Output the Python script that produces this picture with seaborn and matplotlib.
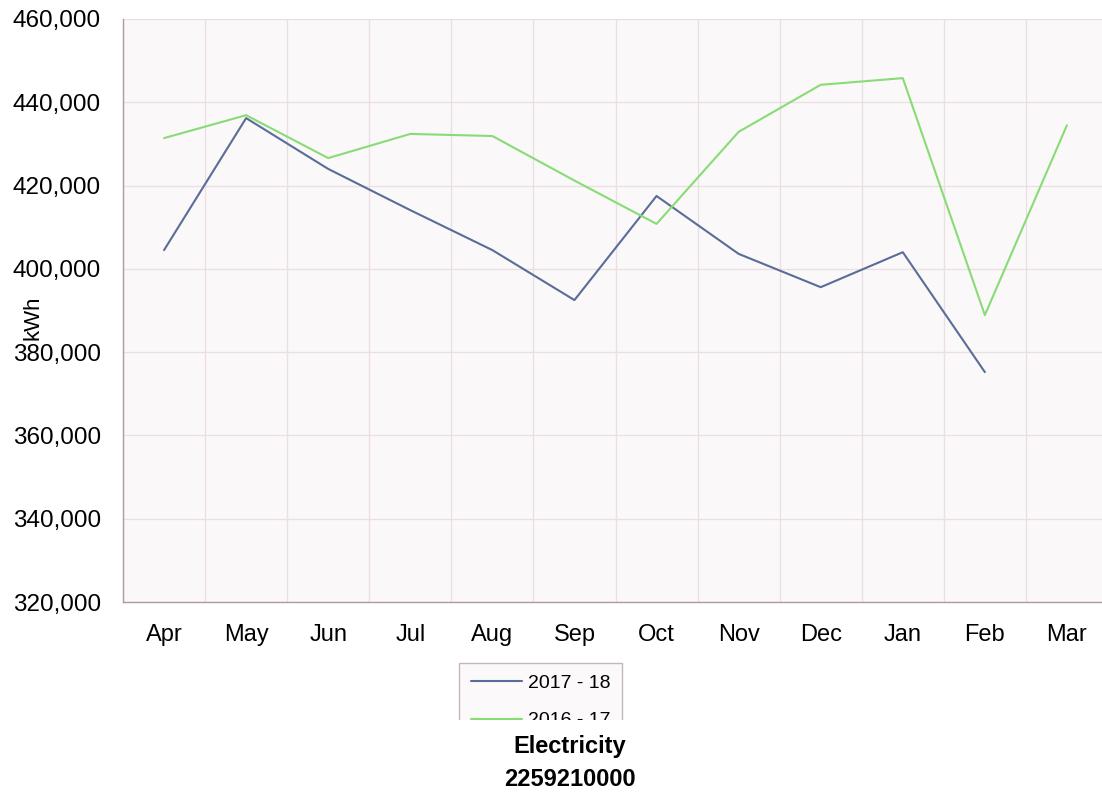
import matplotlib
matplotlib.use("Agg")
import matplotlib.pyplot as plt
from matplotlib.patches import Rectangle
from matplotlib.ticker import FuncFormatter, FixedLocator
import pandas as pd
import seaborn as sns

# data
months = ["Apr", "May", "Jun", "Jul", "Aug", "Sep", "Oct", "Nov", "Dec", "Jan", "Feb", "Mar"]
kwh_2017_18 = [404500, 436200, 424000, 414100, 404500, 392500, 417500, 403600, 395600, 404000, 375200, None]
kwh_2016_17 = [431400, 436900, 426600, 432400, 431900, 421200, 410800, 432900, 444200, 445800, 388900, 434500]
series_names = ["2017 - 18", "2016 - 17"]
colors = ["#5a6c98", "#88dc76"]

df = pd.concat([
    pd.DataFrame({"month": months, "kwh": kwh_2017_18, "year": series_names[0]}),
    pd.DataFrame({"month": months, "kwh": kwh_2016_17, "year": series_names[1]}),
]).dropna()

sns.set_style("white")
plt.rcParams["font.family"] = ["Liberation Sans", "DejaVu Sans"]
plt.rcParams["text.color"] = "black"
plt.rcParams["axes.labelcolor"] = "black"
plt.rcParams["xtick.color"] = "black"
plt.rcParams["ytick.color"] = "black"

fig = plt.figure(figsize=(11.02, 7.94), dpi=100)
ax = fig.add_axes([123 / 1102, 192 / 794, 985 / 1102, 583 / 794])
ax.set_facecolor("#fbf8f9")

sns.lineplot(data=df, x="month", y="kwh", hue="year", hue_order=series_names,
             palette=colors, linewidth=1.5, sort=False, ax=ax)

ax.set_xlim(-0.5, 11.5)
ax.set_ylim(320000, 460000)
ax.set_yticks(range(320000, 460001, 20000))
ax.yaxis.set_major_formatter(FuncFormatter(lambda v, p: f"{int(v):,}"))
ax.set_xticks(range(12))
ax.set_xticklabels(months)
ax.xaxis.set_minor_locator(FixedLocator([i - 0.5 for i in range(13)]))

ax.tick_params(axis="x", which="major", length=0, labelsize=17, pad=16, labelcolor="black")
ax.tick_params(axis="x", which="minor", length=7, color="#b09a9b", width=1)
ax.tick_params(axis="y", length=7, color="#b09a9b", labelsize=17.5, pad=9, labelcolor="black")

ax.grid(False)
ax.yaxis.grid(True, color="#ecdfe1", linewidth=1)
ax.xaxis.grid(True, which="minor", color="#ecdfe1", linewidth=1)
ax.set_axisbelow(True)

for side in ["top", "right"]:
    ax.spines[side].set_visible(False)
for side in ["left", "bottom"]:
    ax.spines[side].set_color("#b09a9b")
    ax.spines[side].set_linewidth(1)

ax.set_xlabel("")
ax.set_ylabel("kWh", fontsize=16, color="black")
ax.yaxis.set_label_coords(-80 / 985, 284 / 583)

leg = ax.legend(loc="upper left", bbox_to_anchor=(459 / 1102, 131 / 794),
                bbox_transform=fig.transFigure, fontsize=14, frameon=True,
                fancybox=False, handlelength=2.65, handletextpad=0.3,
                labelspacing=1.0, borderpad=0.6, borderaxespad=0)
leg.get_frame().set_edgecolor("#b8a6a8")
leg.get_frame().set_facecolor("#fbf8f9")
leg.get_frame().set_linewidth(1)
for t in leg.get_texts():
    t.set_color("black")

# white band that hides the lower part of the legend, as in the reference
fig.patches.append(Rectangle((0, 0), 1, 74 / 794, transform=fig.transFigure,
                             facecolor="white", edgecolor="none", zorder=5))
fig.text(570 / 1102, 47 / 794, "Electricity", ha="center", va="center",
         fontsize=17, fontweight="bold", zorder=6)
fig.text(570 / 1102, 14 / 794, "2259210000", ha="center", va="center",
         fontsize=17, fontweight="bold", zorder=6)

fig.savefig("out.png", dpi=100)
